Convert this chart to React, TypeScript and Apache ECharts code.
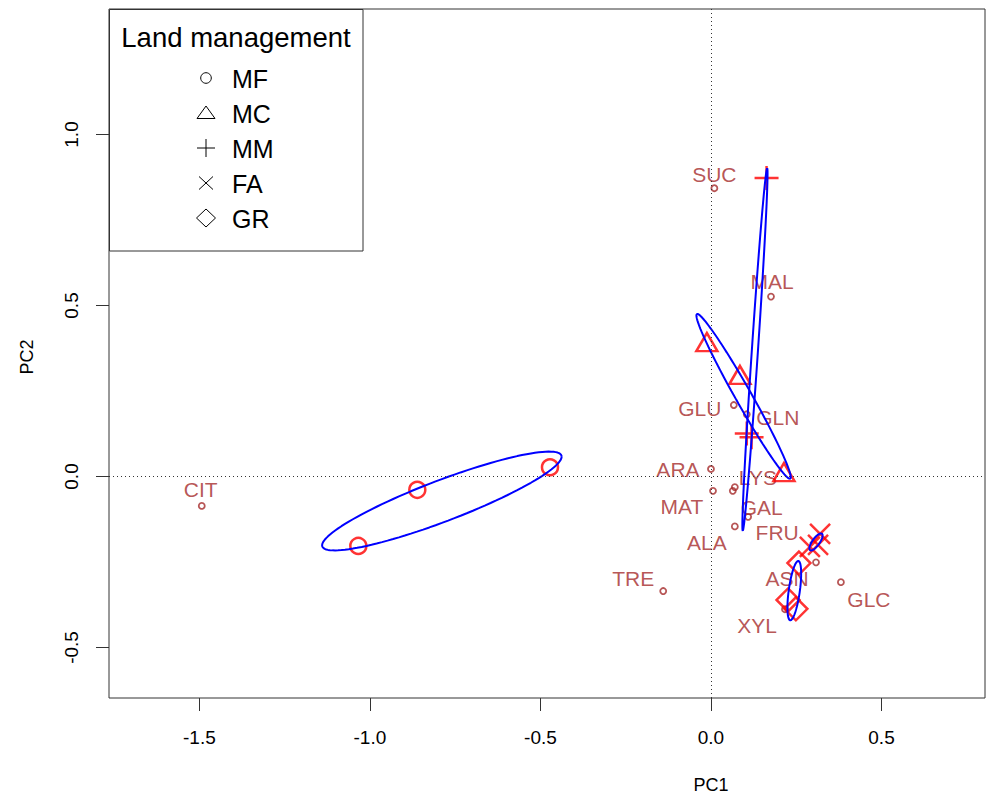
import React, { useEffect, useRef } from "react";
import * as echarts from "echarts";

// ---- Data ----
const varNames = ["SUC", "MAL", "GLU", "GLN", "ARA", "LYS", "MAT", "GAL", "FRU", "ALA", "ASN", "XYL", "GLC", "TRE", "CIT"];
const varPC1 = [0.010, 0.176, 0.067, 0.105, 0.000, 0.070, 0.006, 0.064, 0.109, 0.070, 0.308, 0.217, 0.381, -0.140, -1.493];
const varPC2 = [0.843, 0.526, 0.209, 0.182, 0.022, -0.031, -0.042, -0.042, -0.118, -0.146, -0.251, -0.388, -0.309, -0.335, -0.086];

const groupNames = ["MF", "MC", "MM", "FA", "GR"];
const mfPC1 = [-1.034, -0.861, -0.472];
const mfPC2 = [-0.203, -0.039, 0.027];
const mcPC1 = [-0.012, 0.085, 0.214];
const mcPC2 = [0.393, 0.297, 0.013];
const mmPC1 = [0.163, 0.105, 0.119];
const mmPC2 = [0.873, 0.126, 0.115];
const faPC1 = [0.290, 0.320, 0.314];
const faPC2 = [-0.206, -0.168, -0.200];
const grPC1 = [0.258, 0.226, 0.249];
const grPC2 = [-0.253, -0.361, -0.387];

const xTicks = [-1.5, -1.0, -0.5, 0.0, 0.5];
const yTicks = [-0.5, 0.0, 0.5, 1.0];

// ---- Styles ----
const FONT = "Liberation Sans, Arial, sans-serif";
const BROWN = "#A52A2A";
const RED = "#FF0000";
const BLUE = "#0000FF";

const labelOffsets: Record<string, [number, number]> = {
  SUC: [0, -14], MAL: [1, -15], GLU: [-34, 3], GLN: [31, 3], ARA: [-33, 1],
  LYS: [23, -10], MAT: [-31, 16], GAL: [29, 17], FRU: [29, 16], ALA: [-28, 16],
  ASN: [-29, 16], XYL: [-28, 16], GLC: [28, 17], TRE: [-30, -13], CIT: [-1, -16],
};

const groupSymbols: Record<string, { symbol: string; size: number | number[] }> = {
  MF: { symbol: "circle", size: 16 },
  MC: { symbol: "triangle", size: [21, 18] },
  MM: { symbol: "path://M5,0L5,10M0,5L10,5", size: 24 },
  FA: { symbol: "path://M0,0L10,10M10,0L0,10", size: 20 },
  GR: { symbol: "diamond", size: 23 },
};

const groupData: Record<string, [number[], number[]]> = {
  MF: [mfPC1, mfPC2],
  MC: [mcPC1, mcPC2],
  MM: [mmPC1, mmPC2],
  FA: [faPC1, faPC2],
  GR: [grPC1, grPC2],
};

const ELLIPSE_SCALE = 1.22;

function covEllipse(xs: number[], ys: number[], k: number): number[][] {
  const n = xs.length;
  const mx = xs.reduce((a, b) => a + b, 0) / n;
  const my = ys.reduce((a, b) => a + b, 0) / n;
  let sxx = 0, syy = 0, sxy = 0;
  for (let i = 0; i < n; i++) {
    sxx += (xs[i] - mx) ** 2;
    syy += (ys[i] - my) ** 2;
    sxy += (xs[i] - mx) * (ys[i] - my);
  }
  sxx /= n - 1; syy /= n - 1; sxy /= n - 1;
  const a = Math.sqrt(sxx);
  const b = sxy / a;
  const c = Math.sqrt(Math.max(syy - b * b, 1e-12));
  const pts: number[][] = [];
  const N = 120;
  for (let i = 0; i <= N; i++) {
    const t = (2 * Math.PI * i) / N;
    pts.push([mx + k * a * Math.cos(t), my + k * (b * Math.cos(t) + c * Math.sin(t))]);
  }
  return pts;
}

function buildOption() {
  const series: any[] = [];

  // reference dotted lines
  series.push({
    type: "scatter",
    data: [],
    silent: true,
    z: 1,
    markLine: {
      silent: true,
      symbol: ["none", "none"],
      label: { show: false },
      lineStyle: { type: [1, 3], color: "#333", width: 1 },
      data: [{ xAxis: 0 }, { yAxis: 0 }],
    },
  });

  // variable points with labels
  series.push({
    type: "scatter",
    z: 2,
    symbol: "circle",
    symbolSize: 6,
    itemStyle: { color: "rgba(0,0,0,0)", borderColor: BROWN, borderWidth: 1.8 },
    data: varNames.map((name, i) => ({
      name,
      value: [varPC1[i], varPC2[i]],
      label: { offset: labelOffsets[name] },
    })),
    label: {
      show: true,
      position: "inside",
      formatter: "{b}",
      color: BROWN,
      fontSize: 21,
      fontFamily: FONT,
    },
  });

  // group markers
  groupNames.forEach((g) => {
    const [xs, ys] = groupData[g];
    series.push({
      type: "scatter",
      name: g,
      z: 3,
      symbol: groupSymbols[g].symbol,
      symbolSize: groupSymbols[g].size,
      itemStyle: { color: "rgba(0,0,0,0)", borderColor: RED, borderWidth: 2.5 },
      data: xs.map((x, i) => [x, ys[i]]),
    });
  });

  // ellipses
  groupNames.forEach((g) => {
    const [xs, ys] = groupData[g];
    series.push({
      type: "line",
      z: 4,
      showSymbol: false,
      symbol: "none",
      smooth: false,
      lineStyle: { color: BLUE, width: 2 },
      data: covEllipse(xs, ys, ELLIPSE_SCALE),
    });
  });

  const legendY = [78, 113, 148, 183, 218];
  const sx = 206;
  const stroke = { stroke: "#000", lineWidth: 1, fill: "none" };
  const legendSymbols: any[] = [
    { type: "circle", shape: { cx: sx, cy: legendY[0], r: 5.3 }, style: stroke },
    { type: "polygon", shape: { points: [[sx, legendY[1] - 7], [sx - 9, legendY[1] + 5.5], [sx + 9, legendY[1] + 5.5]] }, style: stroke },
    { type: "line", shape: { x1: sx - 9, y1: legendY[2], x2: sx + 9, y2: legendY[2] }, style: stroke },
    { type: "line", shape: { x1: sx, y1: legendY[2] - 9, x2: sx, y2: legendY[2] + 9 }, style: stroke },
    { type: "line", shape: { x1: sx - 7, y1: legendY[3] - 6.5, x2: sx + 7, y2: legendY[3] + 6.5 }, style: stroke },
    { type: "line", shape: { x1: sx - 7, y1: legendY[3] + 6.5, x2: sx + 7, y2: legendY[3] - 6.5 }, style: stroke },
    { type: "polygon", shape: { points: [[sx, legendY[4] - 9], [sx + 9.5, legendY[4]], [sx, legendY[4] + 9], [sx - 9.5, legendY[4]]] }, style: stroke },
  ];

  const graphic: any[] = [
    {
      type: "rect",
      z: 100,
      shape: { x: 109.5, y: 9.5, width: 253.5, height: 241.5 },
      style: { fill: "#fff", stroke: "#333", lineWidth: 1 },
    },
    {
      type: "text",
      z: 101,
      x: 236,
      y: 37,
      style: { text: "Land management", font: `27.5px ${FONT}`, fill: "#000", textAlign: "center", textVerticalAlign: "middle" },
    },
    ...legendSymbols.map((s) => ({ ...s, z: 101 })),
    ...groupNames.map((g, i) => ({
      type: "text",
      z: 101,
      x: 232,
      y: legendY[i] + 1,
      style: { text: g, font: `25px ${FONT}`, fill: "#000", textAlign: "left", textVerticalAlign: "middle" },
    })),
    {
      type: "text",
      x: 711,
      y: 785,
      style: { text: "PC1", font: `18px ${FONT}`, fill: "#000", textAlign: "center", textVerticalAlign: "middle" },
    },
    {
      type: "text",
      x: 27,
      y: 357,
      rotation: Math.PI / 2,
      style: { text: "PC2", font: `18px ${FONT}`, fill: "#000", textAlign: "center", textVerticalAlign: "middle" },
    },
  ];

  return {
    animation: false,
    backgroundColor: "#fff",
    grid: {
      left: 109,
      right: 1,
      top: 9,
      bottom: 96,
      show: true,
      borderColor: "#333",
      borderWidth: 1,
      backgroundColor: "rgba(0,0,0,0)",
    },
    xAxis: {
      type: "value",
      min: -1.765,
      max: 0.8035,
      splitLine: { show: false },
      axisLine: { show: false, onZero: false },
      axisTick: { show: true, length: 13, lineStyle: { color: "#333" }, customValues: xTicks },
      axisLabel: {
        customValues: xTicks,
        formatter: (v: number) => v.toFixed(1),
        margin: 30,
        fontSize: 19,
        fontFamily: FONT,
        color: "#000",
      },
    },
    yAxis: {
      type: "value",
      min: -0.6477,
      max: 1.367,
      splitLine: { show: false },
      axisLine: { show: false, onZero: false },
      axisTick: { show: true, length: 13, lineStyle: { color: "#333" }, customValues: yTicks },
      axisLabel: {
        customValues: yTicks,
        rotate: 90,
        formatter: (v: number) => v.toFixed(1),
        margin: 28,
        fontSize: 19,
        fontFamily: FONT,
        color: "#000",
      },
    },
    series,
    graphic,
  };
}

export default function App() {
  const ref = useRef<HTMLDivElement>(null);
  useEffect(() => {
    if (!ref.current) return;
    const chart = echarts.init(ref.current, null, { renderer: "svg" });
    chart.setOption(buildOption() as any);
    return () => chart.dispose();
  }, []);
  return <div ref={ref} style={{ position: "fixed", left: 0, top: 0, width: 986, height: 794 }} />;
}
